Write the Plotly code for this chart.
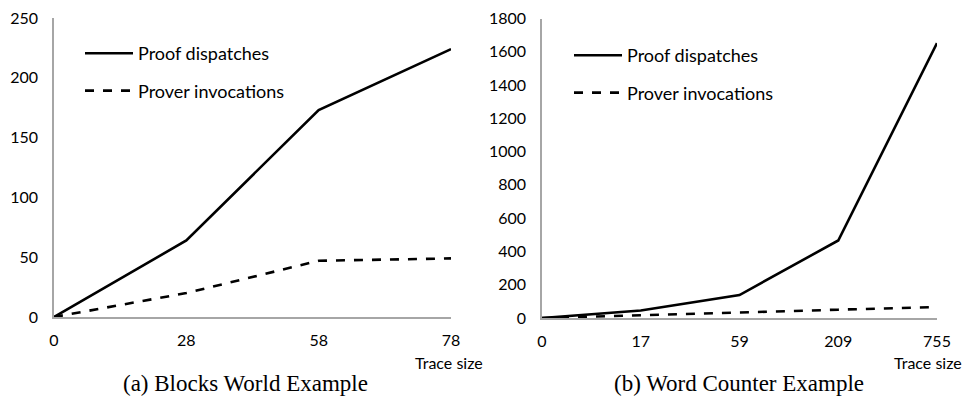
import plotly.graph_objects as go

# The page body has an 8px margin; figure coords are offset so that
# reference pixel positions line up in the viewport.
OFF = 8
W, H = 972 - 2 * OFF, 404 - 2 * OFF

# Data
cats_a = ["0", "28", "58", "78"]
proof_a = [0, 64, 173, 224]
prover_a = [0, 20, 47, 49]

cats_b = ["0", "17", "59", "209", "755"]
proof_b = [0, 45, 138, 466, 1652]
prover_b = [0, 15, 33, 50, 66]

yticks_a = [0, 50, 100, 150, 200, 250]
yticks_b = [0, 200, 400, 600, 800, 1000, 1200, 1400, 1600, 1800]

FONT = "Lato"
FS = 16
LFS = 18
AX = "#A6A6A6"
LW = 2.6

fig = go.Figure()
fig.add_trace(go.Scatter(x=cats_a, y=proof_a, mode="lines", name="Proof dispatches",
                         line=dict(color="black", width=LW), xaxis="x", yaxis="y",
                         legend="legend", legendgroup="a1"))
fig.add_trace(go.Scatter(x=cats_a, y=prover_a, mode="lines", name="Prover invocations",
                         line=dict(color="black", width=LW, dash="dash"), xaxis="x", yaxis="y",
                         legend="legend", legendgroup="a2"))
fig.add_trace(go.Scatter(x=cats_b, y=proof_b, mode="lines", name="Proof dispatches",
                         line=dict(color="black", width=LW), xaxis="x2", yaxis="y2",
                         legend="legend2", legendgroup="b1"))
fig.add_trace(go.Scatter(x=cats_b, y=prover_b, mode="lines", name="Prover invocations",
                         line=dict(color="black", width=LW, dash="dash"), xaxis="x2", yaxis="y2",
                         legend="legend2", legendgroup="b2"))

def px(x):
    return (x - OFF) / W

def py(y):
    return (H - (y - OFF)) / H

common_x = dict(type="category", showgrid=False, zeroline=False, showline=True,
                linecolor=AX, linewidth=1.5, ticks="", ticklabelstandoff=8, automargin=False,
                ticklabeloverflow="allow",
                tickfont=dict(family=FONT, size=FS, color="black"), fixedrange=True)
common_y = dict(showgrid=False, zeroline=False, showline=True, linecolor=AX, linewidth=1.5,
                ticks="", ticklabelstandoff=11, automargin=False,
                ticklabeloverflow="allow",
                tickfont=dict(family=FONT, size=FS, color="black"), fixedrange=True)

leg = dict(font=dict(family=FONT, size=LFS, color="black"), bgcolor="rgba(0,0,0,0)",
           xanchor="left", yanchor="top", tracegroupgap=11, itemwidth=48)

fig.update_layout(
    width=W, height=H,
    margin=dict(l=0, r=0, t=0, b=0, autoexpand=False),
    paper_bgcolor="white", plot_bgcolor="white",
    showlegend=True,
    xaxis=dict(common_x, domain=[px(54), px(451)], range=[0, len(cats_a) - 1], anchor="y"),
    yaxis=dict(common_y, domain=[py(317), py(18)], range=[0, 250], tickvals=yticks_a, anchor="x"),
    xaxis2=dict(common_x, domain=[px(542), px(937)], range=[0, len(cats_b) - 1], anchor="y2"),
    yaxis2=dict(common_y, domain=[py(318), py(18.5)], range=[0, 1800], tickvals=yticks_b, anchor="x2"),
    legend=dict(leg, x=px(80), y=py(35)),
    legend2=dict(leg, x=px(569), y=py(37)),
    annotations=[
        dict(text="Trace size", x=px(485), y=py(362), xref="paper", yref="paper",
             xanchor="right", yanchor="middle", showarrow=False,
             font=dict(family=FONT, size=FS, color="black")),
        dict(text="Trace size", x=1.0, y=py(362), xref="paper", yref="paper",
             xanchor="right", yanchor="middle", showarrow=False,
             font=dict(family=FONT, size=FS, color="black")),
        dict(text="(a) Blocks World Example", x=px(245), y=py(383), xref="paper", yref="paper",
             xanchor="center", yanchor="middle", showarrow=False,
             font=dict(family="Liberation Serif", size=23, color="black")),
        dict(text="(b) Word Counter Example", x=px(739), y=py(383), xref="paper", yref="paper",
             xanchor="center", yanchor="middle", showarrow=False,
             font=dict(family="Liberation Serif", size=23, color="black")),
    ],
)

fig.write_html("out.html")
